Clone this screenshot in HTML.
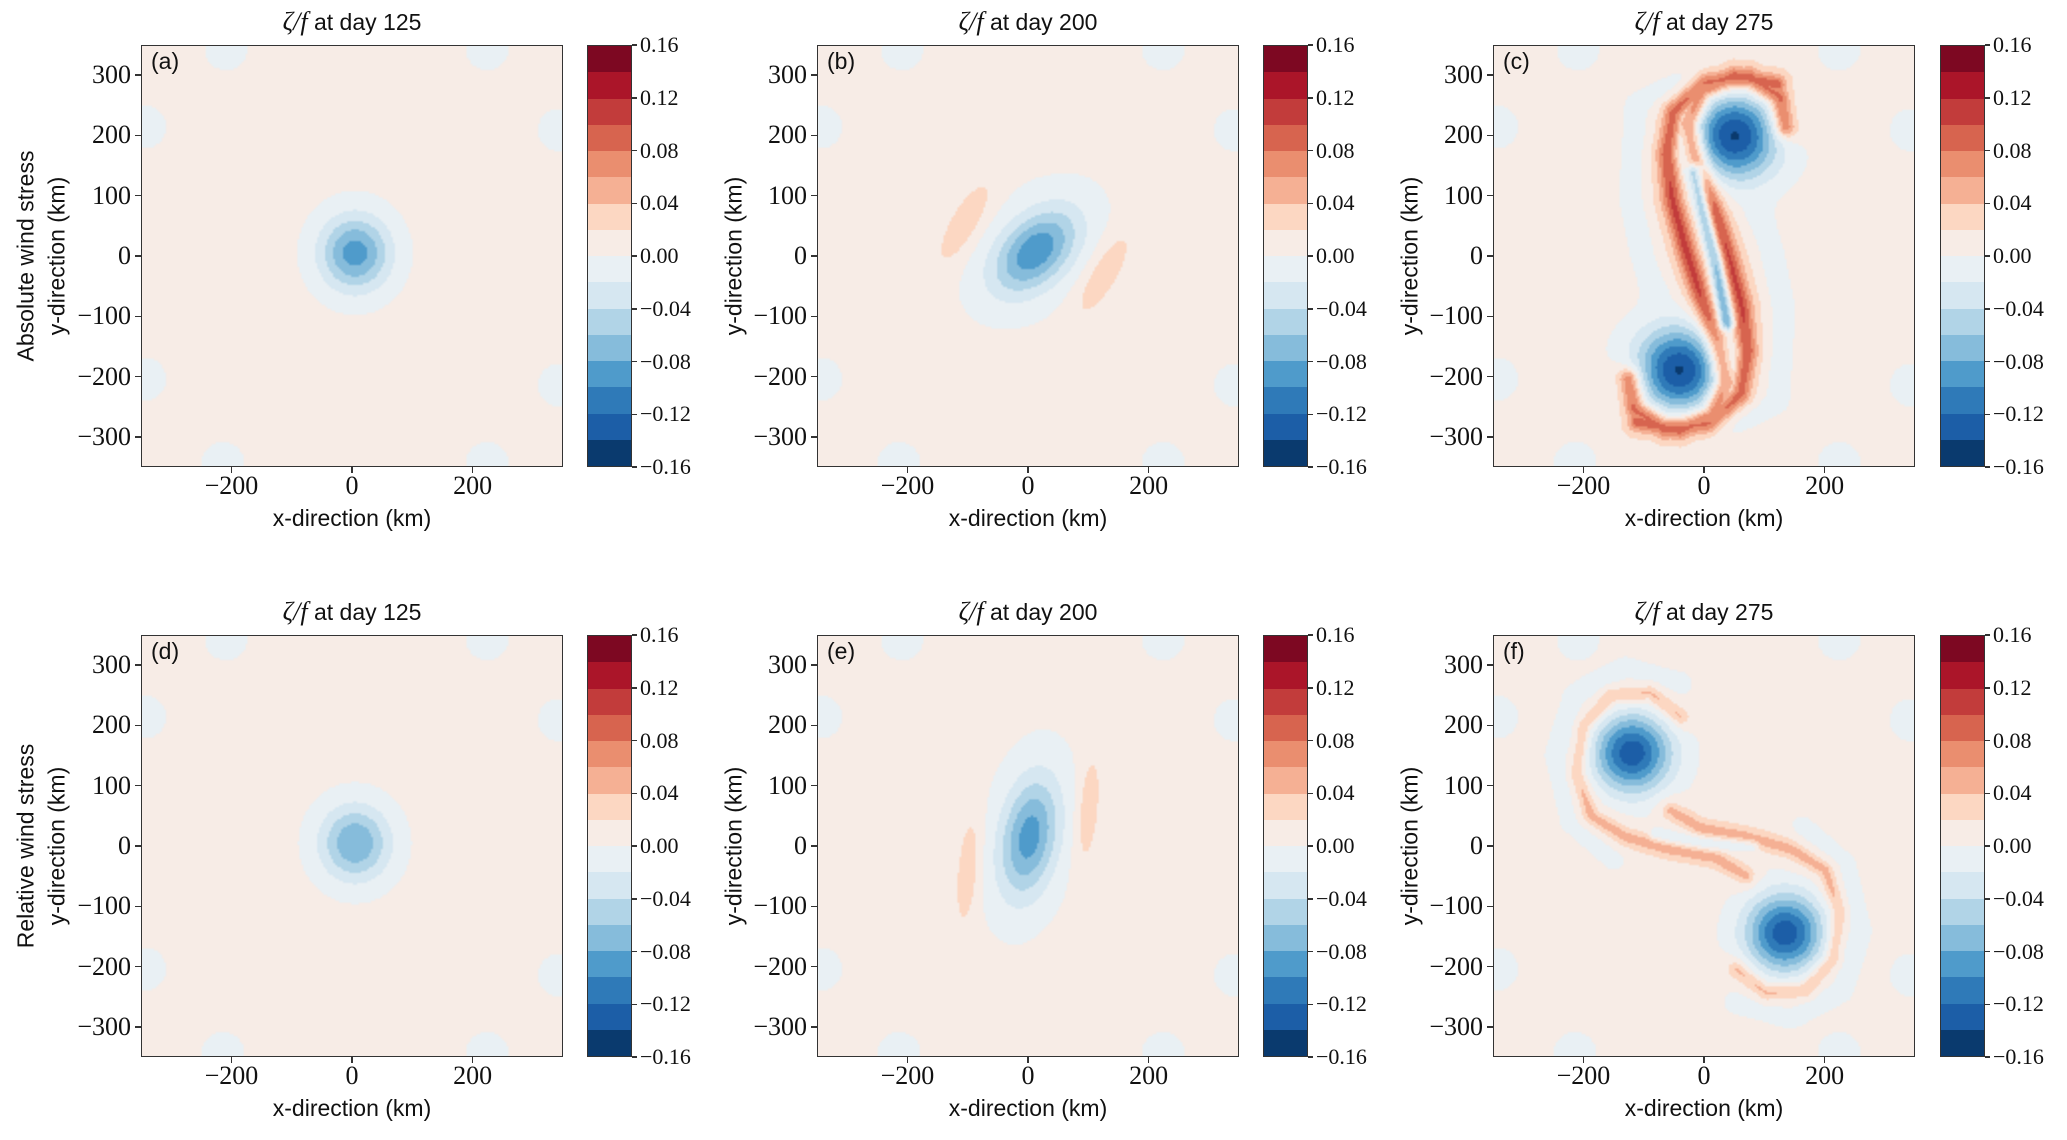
<!DOCTYPE html>
<html><head><meta charset="utf-8">
<style>
body{margin:0;background:#fff;width:2067px;height:1140px;position:relative;overflow:hidden;font-family:"Liberation Sans",sans-serif;color:#111}
.ax{position:absolute;border:1.5px solid #333;box-sizing:border-box;width:422px;height:422px}
.ax canvas{width:100%;height:100%;display:block;image-rendering:auto}
.cb{position:absolute;width:45px;height:422px;border:1.5px solid #333;box-sizing:border-box;display:flex;flex-direction:column}
.cb div{flex:1}
.t{position:absolute;white-space:nowrap}
.tick{font-family:"Liberation Serif",serif;font-size:26px}
.ctick{font-family:"Liberation Serif",serif;font-size:22px}
.lab{font-size:23px}
.title{font-size:23px}
.pl{font-size:23px;position:absolute}
.tk{position:absolute;background:#333}
</style></head><body>
<div id="root"></div>
<script>
// ---- data ----
const levels=[-0.16,-0.14,-0.12,-0.10,-0.08,-0.06,-0.04,-0.02,0,0.02,0.04,0.06,0.08,0.10,0.12,0.14,0.16];
const levelColors=["#0a3a6e","#1c5ea7","#2f7ab8","#4f9bcb","#86bcdb","#b1d4e7","#d6e7f1","#e9f0f4","#f7ece6","#fcd7c2","#f5b094","#ea8e6f","#d7644f","#c23c3b","#ab1529","#7d0822"];
const cbTicks=[-0.16,-0.12,-0.08,-0.04,0.00,0.04,0.08,0.12,0.16];
const axisTicksX=[-200,0,200];
const axisTicksY=[-300,-200,-100,0,100,200,300];
const panelLetters=["(a)","(b)","(c)","(d)","(e)","(f)"];
const panelDays=[125,200,275,125,200,275];
const rowLabels=["Absolute wind stress","Relative wind stress"];
// vortex blobs per panel: [x,y,amp,sigmaMajor,sigmaMinor,angleDeg]
const cornerBlobs=[[-210,345,-0.012,30,30,0],[225,345,-0.012,30,30,0],[-345,215,-0.012,30,30,0],[345,210,-0.012,30,30,0],[-345,-205,-0.012,30,30,0],[345,-215,-0.012,30,30,0],[-215,-345,-0.012,30,30,0],[225,-345,-0.012,30,30,0]];
const blobsA=[[5,5,-0.097,44,41,90]];
const blobsB=[[12,8,-0.092,58,36,45],[-105,55,0.03,62,20,60],[125,-30,0.03,62,20,60],[12,8,-0.012,95,75,45]];
const blobsC=[[50,200,-0.148,52,50,0],[-40,-190,-0.148,52,50,0]];
const blobsD=[[5,5,-0.086,44,41,90]];
const blobsE=[[2,15,-0.085,70,32,80],[-100,-40,0.03,70,14,85],[100,60,0.03,70,14,85],[2,15,-0.012,110,60,80]];
const blobsF=[[-120,155,-0.14,45,45,0],[135,-145,-0.14,45,45,0]];
// filament paths (km coordinates)
const pathRedC=[[135,215],[125,265],[75,298],[0,288],[-50,240],[-62,170],[-52,90],[-30,10],[-5,-70],[20,-140],[35,-210],[15,-265],[-40,-290],[-110,-275]];
const pathBlueC=[[-15,140],[0,70],[20,-10],[38,-110]];
const pathRedF=[[-40,215],[-90,255],[-155,250],[-200,200],[-212,120],[-188,50],[-130,15],[-60,-5],[20,-20],[70,-50]];
const pathBlueF=[[-80,20],[0,5],[80,0]];
const pathOuterF=[[-40,270],[-130,295],[-215,250],[-245,150],[-220,40],[-150,-20]];
const pathOuterC=[[-20,300],[-110,250],[-120,100],[-100,0],[-80,-60]];

function reflect(p,cx,cy){return p.map(q=>[2*cx-q[0],2*cy-q[1]]);}
function gblob(b,x,y){const a=b[5]*Math.PI/180,dx=x-b[0],dy=y-b[1];
 const u=dx*Math.cos(a)+dy*Math.sin(a),v=-dx*Math.sin(a)+dy*Math.cos(a);
 return b[2]*Math.exp(-(u*u/(2*b[3]*b[3])+v*v/(2*b[4]*b[4])));}
function pdist(p,x,y){let best=1e9;for(let i=0;i<p.length-1;i++){const ax=p[i][0],ay=p[i][1],bx=p[i+1][0],by=p[i+1][1];
 const vx=bx-ax,vy=by-ay,L=vx*vx+vy*vy;let t=((x-ax)*vx+(y-ay)*vy)/L;t=Math.max(0,Math.min(1,t));
 const ex=x-ax-t*vx,ey=y-ay-t*vy,d=ex*ex+ey*ey;if(d<best)best=d;}return best;}
function gpath(p,amp,s,x,y){return amp*Math.exp(-pdist(p,x,y)/(2*s*s));}
function mpath(p,q,amp,s,x,y){return amp*Math.exp(-Math.min(pdist(p,x,y),pdist(q,x,y))/(2*s*s));}
function baseF(blobs,x,y){let v=0.006;for(const b of cornerBlobs)v+=gblob(b,x,y);for(const b of blobs)v+=gblob(b,x,y);return v;}
const fields=[
 (x,y)=>baseF(blobsA,x,y),
 (x,y)=>baseF(blobsB,x,y),
 (x,y)=>{let v=baseF(blobsC,x,y);const p2=reflect(pathRedC,5,5),o2=reflect(pathOuterC,5,5);
   v+=mpath(pathRedC,p2,0.065,11,x,y)+mpath(pathRedC,p2,0.035,24,x,y);
   v+=gpath(pathBlueC,-0.095,9,x,y)+gpath(pathOuterC,-0.016,16,x,y)+gpath(o2,-0.016,16,x,y);return v;},
 (x,y)=>baseF(blobsD,x,y),
 (x,y)=>baseF(blobsE,x,y),
 (x,y)=>{let v=baseF(blobsF,x,y);const p2=reflect(pathRedF,7,5),o2=reflect(pathOuterF,7,5);
   v+=mpath(pathRedF,p2,0.025,7,x,y)+mpath(pathRedF,p2,0.022,18,x,y);
   v+=gpath(pathBlueF,-0.03,8,x,y)+gpath(pathOuterF,-0.016,14,x,y)+gpath(o2,-0.016,14,x,y);return v;}
];
function hex(c){return [parseInt(c.substr(1,2),16),parseInt(c.substr(3,2),16),parseInt(c.substr(5,2),16)];}
const rgb=levelColors.map(hex);
function colorIdx(v){if(v<levels[0])return 0;for(let i=0;i<16;i++){if(v<levels[i+1])return i;}return 15;}

const root=document.getElementById('root');
const colsX=[141,817,1493], cbX=[587,1263,1940], rowsY=[45,635];
const AX=422, DMIN=-350, DMAX=350;
function sx(v){return (v-DMIN)/(DMAX-DMIN)*AX;}
function sy(v){return (DMAX-v)/(DMAX-DMIN)*AX;}
function cy(v){return (0.16-v)/0.32*AX;}
function add(tag,cls,style,text){const e=document.createElement(tag);if(cls)e.className=cls;Object.assign(e.style,style);if(text!==undefined)e.textContent=text;root.appendChild(e);return e;}

for(let r=0;r<2;r++)for(let c=0;c<3;c++){
 const k=r*3+c, X=colsX[c], Y=rowsY[r];
 const ax=add('div','ax',{left:X+'px',top:Y+'px'});
 
 
 const cv=document.createElement('canvas');const N=211;cv.width=N;cv.height=N;ax.appendChild(cv);
 
 
 const ctx=cv.getContext('2d'),img=ctx.createImageData(N,N),f=fields[k];
 for(let j=0;j<N;j++)for(let i=0;i<N;i++){const x=DMIN+(i+0.5)/N*700,y=DMAX-(j+0.5)/N*700;
  const ci=rgb[colorIdx(f(x,y))],o=(j*N+i)*4;img.data[o]=ci[0];img.data[o+1]=ci[1];img.data[o+2]=ci[2];img.data[o+3]=255;}
 ctx.putImageData(img,0,0);
 const pl=add('div','pl',{left:(X+10)+'px',top:(Y+3)+'px',fontFamily:'"Liberation Sans",sans-serif'},panelLetters[k]);
 
 
 const ti=add('div','t title',{left:(X+AX/2)+'px',top:(Y-38)+'px',transform:'translateX(-50%)'});
 ti.innerHTML='<span style="font-family:\'Liberation Serif\',serif;font-style:italic;font-size:26px">ζ/f</span> at day '+panelDays[k];
 
 
 for(const t of axisTicksX){const px=X+sx(t);
  const tk=add('div','tk',{left:(px-0.75)+'px',top:(Y+AX)+'px',width:'1.5px',height:'6px'});
  
  
  const tl=add('div','t tick',{left:px+'px',top:(Y+AX+4)+'px',transform:'translateX(-50%)'},(t<0?'−':'')+Math.abs(t));
  
  }
 for(const t of axisTicksY){const py=Y+sy(t);
  const tk=add('div','tk',{left:(X-6)+'px',top:(py-0.75)+'px',width:'6px',height:'1.5px'});
  
  
  const tl=add('div','t tick',{right:(2067-X+10)+'px',top:(py-15)+'px'},(t<0?'−':'')+Math.abs(t));
  
  }
 const xl=add('div','t lab',{left:(X+AX/2)+'px',top:(Y+AX+38)+'px',transform:'translateX(-50%)'},'x-direction (km)');
 
 
 const ylx=c===0?57:(X-83);
 const yl=add('div','t lab',{left:ylx+'px',top:(Y+AX/2)+'px',transform:'translate(-50%,-50%) rotate(-90deg)'},'y-direction (km)');
 
 
 if(c===0){const rl=add('div','t lab',{left:'26px',top:(Y+AX/2)+'px',transform:'translate(-50%,-50%) rotate(-90deg)'},rowLabels[r]);
  
  }
 const cb=add('div','cb',{left:cbX[c]+'px',top:Y+'px'});
 
 
 for(let i=levelColors.length-1;i>=0;i--){const s=document.createElement('div');s.style.background=levelColors[i];cb.appendChild(s);
  
  }
 for(const t of cbTicks){const py=Y+cy(t);
  const tk=add('div','tk',{left:(cbX[c]+45)+'px',top:(py-0.75)+'px',width:'5px',height:'1.5px'});
  
  
  const tl=add('div','t ctick',{left:(cbX[c]+53)+'px',top:(py-13)+'px'},(t<0?'−':'')+Math.abs(t).toFixed(2));
  
  }
}
</script>
</body></html>
